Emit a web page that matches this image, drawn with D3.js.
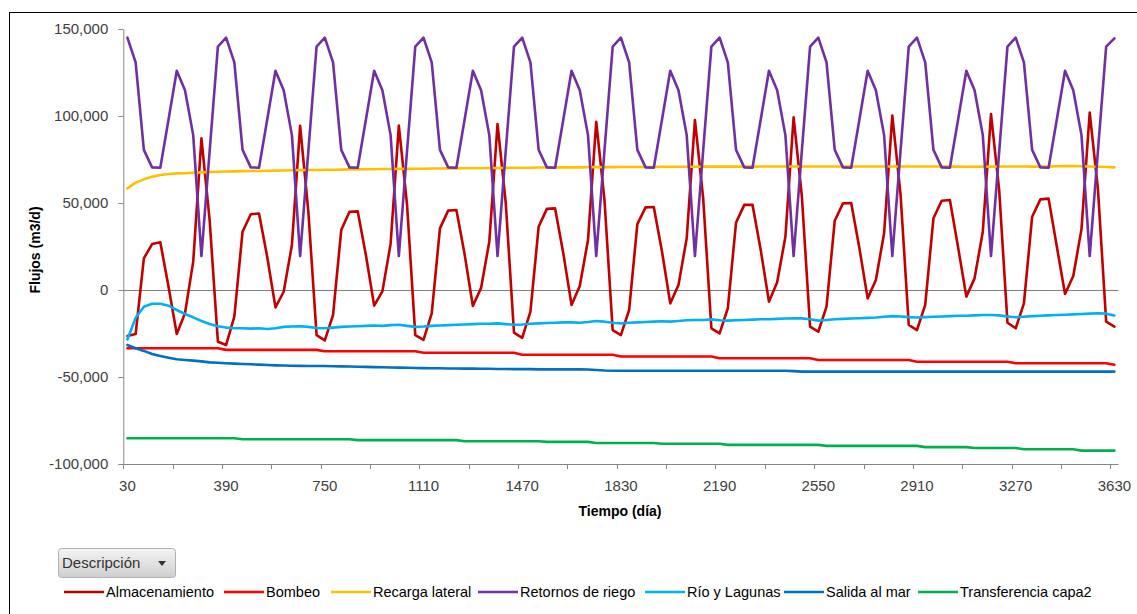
<!DOCTYPE html>
<html>
<head>
<meta charset="utf-8">
<script src="https://cdn.jsdelivr.net/npm/d3@7"></script>
<style>
  html, body { margin: 0; padding: 0; background: #fff; }
  svg { display: block; font-family: "Liberation Sans", Arial, sans-serif; }
</style>
</head>
<body>
<svg id="chart" width="1137" height="614"></svg>
<script>
// ---------------- DATA ----------------
const days = [30,60,90,120,150,180,210,240,270,300,330,360,
  390,420,450,480,510,540,570,600,630,660,690,720,
  750,780,810,840,870,900,930,960,990,1020,1050,1080,
  1110,1140,1170,1200,1230,1260,1290,1320,1350,1380,1410,1440,
  1470,1500,1530,1560,1590,1620,1650,1680,1710,1740,1770,1800,
  1830,1860,1890,1920,1950,1980,2010,2040,2070,2100,2130,2160,
  2190,2220,2250,2280,2310,2340,2370,2400,2430,2460,2490,2520,
  2550,2580,2610,2640,2670,2700,2730,2760,2790,2820,2850,2880,
  2910,2940,2970,3000,3030,3060,3090,3120,3150,3180,3210,3240,
  3270,3300,3330,3360,3390,3420,3450,3480,3510,3540,3570,3600,
  3630];

const seriesNames = ["Almacenamiento","Bombeo","Recarga lateral","Retornos de riego","Río y Lagunas","Salida al mar","Transferencia capa2"];

const almacenamiento = [
  -26400,-25300,18200,26400,27400,1900,-25300,-13400,16300,87200,40000,-29700,
  -31600,-15300,33500,43500,44000,19000,-10000,-1000,25900,94300,45000,-25900,
  -29000,-14400,34500,45000,45200,20000,-9000,-800,26500,94500,49000,-25900,
  -28700,-13400,35400,45600,46000,20500,-9200,1200,27800,95400,50000,-24500,
  -27500,-12400,36400,46600,46900,21000,-8600,2300,28700,96700,52000,-23000,
  -25900,-11500,37900,47500,47700,22000,-7700,2900,29700,97700,53000,-22000,
  -24900,-10500,38700,48900,49000,23000,-6700,4500,30600,99200,54000,-21000,
  -24000,-9500,39800,49800,50000,24000,-4800,5700,32600,100200,55000,-20100,
  -23000,-8500,41200,51300,51700,24500,-3800,6700,33500,101100,57000,-18800,
  -22000,-7700,42100,52100,52500,25000,-2300,8000,35000,102000,58000,-18200,
  -21000];

const bombeo = [
  -33500,-33500,-33500,-33500,-33500,-33500,-33500,-33500,-33500,-33500,-33500,-33500,
  -34400,-34400,-34400,-34400,-34400,-34400,-34400,-34400,-34400,-34400,-34400,-34400,
  -35200,-35200,-35200,-35200,-35200,-35200,-35200,-35200,-35200,-35200,-35200,-35200,
  -36100,-36100,-36100,-36100,-36100,-36100,-36100,-36100,-36100,-36100,-36100,-36100,
  -37200,-37200,-37200,-37200,-37200,-37200,-37200,-37200,-37200,-37200,-37200,-37200,
  -38200,-38200,-38200,-38200,-38200,-38200,-38200,-38200,-38200,-38200,-38200,-38200,
  -39200,-39200,-39200,-39200,-39200,-39200,-39200,-39200,-39200,-39200,-39200,-39200,
  -40200,-40200,-40200,-40200,-40200,-40200,-40200,-40200,-40200,-40200,-40200,-40200,
  -41200,-41200,-41200,-41200,-41200,-41200,-41200,-41200,-41200,-41200,-41200,-41200,
  -42100,-42100,-42100,-42100,-42100,-42100,-42100,-42100,-42100,-42100,-42100,-42100,
  -43000];

const recargaLateral = [
  58400,61700,63600,65100,66100,66700,67000,67100,67400,67600,67800,68000,
  68100,68200,68300,68400,68400,68500,68600,68700,68800,68900,69000,69000,
  69100,69100,69200,69300,69300,69400,69400,69500,69500,69600,69600,69700,
  69700,69800,69800,69900,69900,70000,70000,70000,70100,70100,70200,70300,
  70300,70300,70400,70400,70400,70500,70500,70500,70600,70600,70600,70600,
  70700,70700,70700,70700,70700,70800,70800,70800,70800,70800,70900,70900,
  70900,70900,70900,70900,70900,71000,71000,71000,71000,71000,71000,71000,
  71000,71000,71000,71000,71000,71000,71000,71000,71000,71000,71000,71000,
  71000,71000,71000,71000,70900,70900,70800,70800,70900,70900,71000,71000,
  71000,71000,70900,70900,70900,71100,71300,71200,71100,71000,70800,70700,
  70500];

const retornosRiego = [
  145000,130800,80500,70500,70300,98000,126000,114800,89000,19500,80000,139900,
  145000,130800,80500,70500,70300,98000,126000,114800,89000,19500,80000,139900,
  145000,130800,80500,70500,70300,98000,126000,114800,89000,19500,80000,139900,
  145000,130800,80500,70500,70300,98000,126000,114800,89000,19500,80000,139900,
  145000,130800,80500,70500,70300,98000,126000,114800,89000,19500,80000,139900,
  145000,130800,80500,70500,70300,98000,126000,114800,89000,19500,80000,139900,
  145000,130800,80500,70500,70300,98000,126000,114800,89000,19500,80000,139900,
  145000,130800,80500,70500,70300,98000,126000,114800,89000,19500,80000,139900,
  145000,130800,80500,70500,70300,98000,126000,114800,89000,19500,80000,139900,
  145000,130800,80500,70500,70300,98000,126000,114800,89000,19500,80000,139900,
  144600];

const rioLagunas = [
  -28400,-16000,-9600,-7900,-7900,-9000,-11500,-13800,-15700,-17800,-19500,-20800,
  -21600,-22000,-22000,-22200,-22000,-22400,-22000,-21200,-21000,-20800,-21200,-21800,
  -22000,-21600,-21200,-21000,-20800,-20600,-20400,-20600,-20200,-20000,-20600,-21200,
  -21000,-20600,-20400,-20200,-20000,-19800,-19600,-19400,-19400,-19200,-19600,-20000,
  -19800,-19400,-19200,-19000,-18800,-18600,-18600,-18800,-18400,-17800,-18200,-18800,
  -19200,-18800,-18600,-18400,-18200,-18000,-18200,-17800,-17400,-17200,-17200,-16900,
  -17400,-17600,-17400,-17200,-17000,-16800,-16800,-16600,-16400,-16300,-16300,-16800,
  -17600,-17200,-16800,-16600,-16400,-16200,-16000,-15800,-15400,-15000,-15200,-15600,
  -15800,-15600,-15400,-15200,-15000,-14800,-14800,-14600,-14400,-14400,-14600,-15200,
  -15700,-15400,-15000,-14800,-14600,-14400,-14200,-14000,-13800,-13600,-13400,-13600,
  -14700];

const salidaMar = [
  -31600,-33500,-35000,-36800,-37900,-38900,-39800,-40200,-40600,-41000,-41600,-41800,
  -42100,-42300,-42500,-42700,-42900,-43100,-43300,-43400,-43500,-43600,-43700,-43700,
  -43700,-43800,-43900,-44000,-44100,-44200,-44300,-44400,-44500,-44600,-44700,-44800,
  -44900,-45000,-45000,-45100,-45100,-45200,-45200,-45300,-45300,-45400,-45400,-45500,
  -45500,-45500,-45600,-45600,-45600,-45600,-45600,-45600,-45700,-46000,-46300,-46400,
  -46400,-46400,-46400,-46400,-46400,-46400,-46400,-46400,-46400,-46400,-46400,-46400,
  -46400,-46400,-46400,-46400,-46400,-46400,-46400,-46400,-46400,-46600,-46900,-46900,
  -46900,-46900,-46900,-46900,-46900,-46900,-46900,-46900,-46900,-46900,-46900,-46900,
  -46900,-46900,-46900,-46900,-46900,-46900,-46900,-46900,-46900,-46900,-46900,-46900,
  -46900,-46900,-46900,-46900,-46900,-46900,-46900,-46900,-46900,-46900,-46900,-46900,
  -46900];

const transferenciaCapa2 = [
  -85200,-85200,-85200,-85200,-85200,-85200,-85200,-85200,-85200,-85200,-85200,-85200,
  -85200,-85200,-85800,-85800,-85800,-85800,-85800,-85800,-85800,-85800,-85800,-85800,
  -85800,-85800,-85800,-85800,-86300,-86300,-86300,-86300,-86300,-86300,-86300,-86300,
  -86300,-86300,-86300,-86300,-86300,-86900,-86900,-86900,-86900,-86900,-86900,-86900,
  -86900,-86900,-86900,-87300,-87300,-87300,-87300,-87300,-87300,-87900,-87900,-87900,
  -87900,-87900,-87900,-87900,-87900,-88400,-88400,-88400,-88400,-88400,-88400,-88400,
  -88400,-89000,-89000,-89000,-89000,-89000,-89000,-89000,-89000,-89000,-89000,-89000,
  -89000,-89600,-89600,-89600,-89600,-89600,-89600,-89600,-89600,-89600,-89600,-89600,
  -89600,-90300,-90300,-90300,-90300,-90300,-90300,-90800,-90800,-90800,-90800,-90800,
  -90800,-91500,-91500,-91500,-91500,-91500,-91500,-91500,-92300,-92300,-92300,-92300,
  -92300];

const seriesColors = ["#C00000","#FF0000","#FFC000","#7030A0","#00B0F0","#0070C0","#00B050"];
const yTicks = [-100000,-50000,0,50000,100000,150000];
const xLabelEvery = 12;
const xTickEvery = 6;

// ---------------- CHART ----------------
const svg = d3.select("#chart");
const plot = {left: 123.3, right: 1118.5, top: 29, bottom: 464};
const allSeries = [almacenamiento, bombeo, recargaLateral, retornosRiego, rioLagunas, salidaMar, transferenciaCapa2];

const x = d3.scaleBand().domain(d3.range(days.length)).range([plot.left, plot.right]).padding(0);
const bw = x.bandwidth();
const y = d3.scaleLinear().domain([-100000, 150000]).range([plot.bottom, plot.top]);

const loc = d3.formatLocale({decimal: ".", thousands: ",", grouping: [3], currency: ["$", ""], minus: "-"});
const fmt = loc.format(",");

// chart area border
svg.append("rect").attr("x", 9.5).attr("y", 12.5).attr("width", 1140).attr("height", 620)
  .attr("fill", "none").attr("stroke", "#000").attr("stroke-width", 1);

const axisColor = "#868686";
const textColor = "#404040";

// Y axis
const yAxis = svg.append("g").attr("transform", `translate(${plot.left},0)`)
  .call(d3.axisLeft(y).tickValues(yTicks).tickFormat(fmt).tickSize(5).tickSizeOuter(0).tickPadding(10));
yAxis.select(".domain").attr("stroke", axisColor);
yAxis.selectAll(".tick line").attr("stroke", axisColor);
yAxis.selectAll(".tick text").attr("fill", textColor).style("font-size", "15px")
  .style("font-family", "'Liberation Sans', Arial, sans-serif");

// zero line
svg.append("line").attr("x1", plot.left).attr("x2", plot.right).attr("y1", Math.round(y(0)) + 0.5).attr("y2", Math.round(y(0)) + 0.5)
  .attr("stroke", "#808080").attr("stroke-width", 1);

// bottom axis line + tick marks at category boundaries
svg.append("line").attr("x1", plot.left).attr("x2", plot.right).attr("y1", plot.bottom + 0.5).attr("y2", plot.bottom + 0.5)
  .attr("stroke", axisColor).attr("stroke-width", 1);
svg.append("g").selectAll("line")
  .data(d3.range(days.length).filter(i => i % xTickEvery === 0))
  .join("line")
  .attr("x1", i => Math.round(x(i)) + 0.5).attr("x2", i => Math.round(x(i)) + 0.5)
  .attr("y1", plot.bottom).attr("y2", plot.bottom + 5)
  .attr("stroke", axisColor);

// x labels via axis (no tick lines)
const xAxis = svg.append("g").attr("transform", `translate(0,${plot.bottom})`)
  .call(d3.axisBottom(x).tickValues(d3.range(days.length).filter(i => i % xLabelEvery === 0))
    .tickFormat(i => days[i]).tickSize(0).tickPadding(16));
xAxis.select(".domain").remove();
xAxis.selectAll(".tick text").attr("fill", textColor).style("font-size", "15px")
  .style("font-family", "'Liberation Sans', Arial, sans-serif");

// axis titles
svg.append("text").attr("x", 620).attr("y", 516).attr("text-anchor", "middle")
  .attr("font-weight", "bold").attr("font-size", 14).attr("fill", "#000").text("Tiempo (día)");
svg.append("text").attr("transform", "translate(40,250) rotate(-90)").attr("text-anchor", "middle")
  .attr("font-weight", "bold").attr("font-size", 14).attr("fill", "#000").text("Flujos (m3/d)");

// lines
const line = d3.line().x((d, i) => x(i) + bw / 2).y(d => y(d)).curve(d3.curveLinear);
svg.append("g").selectAll("path").data(allSeries).join("path")
  .attr("d", d => line(d))
  .attr("fill", "none")
  .attr("stroke", (d, i) => seriesColors[i])
  .attr("stroke-width", 2.6)
  .attr("stroke-linejoin", "round")
  .attr("stroke-linecap", "round");

// Descripción button
const defs = svg.append("defs");
const grad = defs.append("linearGradient").attr("id", "btn").attr("x1", 0).attr("x2", 0).attr("y1", 0).attr("y2", 1);
grad.append("stop").attr("offset", "0%").attr("stop-color", "#f4f4f4");
grad.append("stop").attr("offset", "100%").attr("stop-color", "#cfcfcf");
svg.append("rect").attr("x", 58.5).attr("y", 548.5).attr("width", 117).attr("height", 29).attr("rx", 3)
  .attr("fill", "url(#btn)").attr("stroke", "#b0b0b0");
svg.append("text").attr("x", 62).attr("y", 568).attr("font-size", 15).attr("fill", "#333").text("Descripción");
svg.append("path").attr("d", "M158,561 L166,561 L162,566 Z").attr("fill", "#333");

// Legend
const legendX = [64, 224, 331, 478, 645, 784, 918];
const lg = svg.append("g").selectAll("g").data(seriesNames).join("g")
  .attr("transform", (d, i) => `translate(${legendX[i]},592)`);
lg.append("line").attr("x1", 0).attr("x2", 40).attr("y1", 0).attr("y2", 0)
  .attr("stroke", (d, i) => seriesColors[i]).attr("stroke-width", 2.6);
lg.append("text").attr("x", 42).attr("y", 5).attr("font-size", 14.5).attr("fill", "#000").text(d => d);
</script>
</body>
</html>
